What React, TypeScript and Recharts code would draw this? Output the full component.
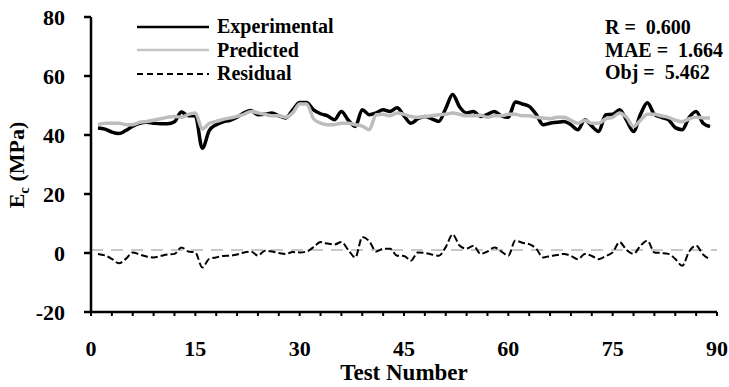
import React from 'react';
import {
  LineChart,
  Line,
  XAxis,
  YAxis,
  ReferenceLine
} from 'recharts';

// Test numbers 1..89
const testNumbers = Array.from({ length: 89 }, (_, i) => i + 1);

const experimental = [
  42.4, 42.0, 41.0, 40.5, 41.5, 43.0, 44.0, 44.3, 44.0, 43.8,
  43.8, 44.5, 47.8, 46.5, 46.5, 35.5, 41.5, 43.5, 44.5, 45.0,
  46.0, 47.5, 48.3, 46.9, 47.0, 47.5, 46.5, 45.8, 48.5, 51.0,
  51.0, 48.5, 47.2, 46.5, 45.2, 48.0, 45.0, 42.9, 48.6, 46.9,
  47.5, 48.6, 48.0, 49.2, 46.5, 44.0, 45.5, 46.3, 45.5, 44.6,
  49.0, 53.7, 49.5, 47.5, 48.0, 46.3, 47.0, 48.0, 46.5, 46.0,
  51.2, 50.5, 49.7, 47.0, 43.5, 44.0, 44.3, 44.6, 43.5, 41.8,
  45.2, 43.0, 41.2, 46.9, 47.0, 48.6, 45.0, 41.2, 47.0, 50.9,
  47.0, 46.0, 45.2, 42.5, 41.8, 46.0, 48.0, 44.0, 42.9
];

const predicted = [
  43.5, 44.0, 44.0, 44.0, 43.5, 43.5, 44.3, 44.6, 45.0, 45.5,
  46.0, 46.3, 46.0, 47.0, 47.5, 42.0, 44.0, 44.6, 45.3, 45.8,
  46.3, 47.0, 48.0, 47.5, 47.0, 46.5, 46.5, 46.0, 47.5, 50.5,
  50.5, 45.5, 44.0, 43.5, 43.5, 44.0, 44.0, 43.5, 43.0, 41.8,
  46.9, 47.0, 46.5, 47.5, 47.0, 46.3, 46.0, 46.3, 46.5, 46.9,
  47.0, 47.5, 47.0, 46.5, 46.5, 46.7, 46.0, 46.5, 46.5, 47.0,
  47.0, 46.5, 46.5, 46.0, 45.8, 45.5, 46.0, 46.0, 45.0, 44.0,
  45.0, 44.0, 44.0, 45.5, 46.0, 47.5, 46.0, 42.9, 45.0, 47.0,
  47.0, 46.5, 46.0, 45.0, 44.5, 45.5, 46.0, 45.8, 45.8
];

const residual = [
  -0.3, -0.8, -2.0, -3.5, -2.0, 0.2, -0.5, -1.2, -1.5, -1.0,
  -0.5, -0.3, 1.9, 0.5, 0.2, -4.9, -2.0, -1.5, -1.0, -0.9,
  -0.5, 0.2, 0.5, -0.9, 0.8, 0.5, 0.0, -0.3, 0.3, 0.2,
  0.5, 2.0, 3.7, 3.2, 2.9, 3.7, 1.0, -1.5, 5.4, 4.0,
  0.5, 1.4, 1.4, -0.9, -1.0, -2.6, 0.2, 0.0, -0.5, -0.9,
  2.0, 6.3, 2.5, 1.5, 2.5, -0.3, 0.5, 1.9, 0.5, -0.9,
  4.2, 3.5, 3.0, 1.5, -1.5, -1.0, -0.7, -0.3, -1.0, -2.1,
  -0.3, -1.0, -2.1, -1.0, 0.2, 3.7, 1.0, -0.3, 2.5, 4.2,
  0.2, 0.0, -0.3, -2.0, -4.3, 0.5, 2.5, -0.5, -2.1
];

const xTicks = Array.from({ length: 31 }, (_, i) => i * 3);
const yTicks = [-20, 0, 20, 40, 60, 80];
const meanResidual = 1;

const stats = ['R =  0.600', 'MAE =  1.664', 'Obj =  5.462'];

const FONT = '"Liberation Serif", "Times New Roman", serif';

const data = testNumbers.map((t, i) => ({
  test: t,
  experimental: experimental[i],
  predicted: predicted[i],
  residual: residual[i]
}));

const legendItems = [
  { name: 'Experimental', color: '#000', width: 2.5, dash: undefined },
  { name: 'Predicted', color: '#c4c4c4', width: 2.5, dash: undefined },
  { name: 'Residual', color: '#000', width: 2, dash: '6 4' }
];

const YLabel = () => (
  <text
    x={24}
    y={165}
    transform="rotate(-90 24 165)"
    textAnchor="middle"
    fontFamily={FONT}
    fontWeight="bold"
    fontSize={22}
    fill="#000"
  >
    E<tspan fontSize={15} dy={5}>c</tspan>
    <tspan dy={-5}> (MPa)</tspan>
  </text>
);

export default function App() {
  return (
    <div style={{ position: 'absolute', left: 0, top: 0, width: 729, height: 387, background: '#fff' }}>
      <LineChart
        width={729}
        height={387}
        data={data}
        margin={{ top: 17, right: 12, left: 0, bottom: 0 }}
      >
        <XAxis
          dataKey="test"
          type="number"
          domain={[0, 90]}
          ticks={xTicks}
          interval={0}
          tickFormatter={(v: number) => (v % 15 === 0 ? String(v) : '')}
          axisLine={{ stroke: '#000', strokeWidth: 2.5 }}
          tickLine={{ stroke: '#000', strokeWidth: 2 }}
          tickSize={4}
          tickMargin={24}
          height={75}
          tick={{ fontFamily: FONT, fontWeight: 'bold', fontSize: 22, fill: '#000' }}
          label={{
            value: 'Test Number',
            position: 'insideTop',
            offset: 52,
            style: { fontFamily: FONT, fontWeight: 'bold', fontSize: 23, fill: '#000' }
          }}
        />
        <YAxis
          type="number"
          domain={[-20, 80]}
          ticks={yTicks}
          interval={0}
          width={91}
          axisLine={{ stroke: '#000', strokeWidth: 2.5 }}
          tickLine={{ stroke: '#000', strokeWidth: 2.5 }}
          tickSize={7}
          tickMargin={19}
          tick={{ fontFamily: FONT, fontWeight: 'bold', fontSize: 22, fill: '#000' }}
          label={<YLabel />}
        />
        <ReferenceLine
          y={meanResidual}
          stroke="#c8c8c8"
          strokeWidth={2}
          strokeDasharray="12 8"
        />
        <Line
          type="monotone"
          dataKey="experimental"
          name="Experimental"
          stroke="#000"
          strokeWidth={3.5}
          dot={false}
          isAnimationActive={false}
        />
        <Line
          type="monotone"
          dataKey="predicted"
          name="Predicted"
          stroke="#bdbdbd"
          strokeWidth={3.5}
          dot={false}
          isAnimationActive={false}
        />
        <Line
          type="monotone"
          dataKey="residual"
          name="Residual"
          stroke="#000"
          strokeWidth={2}
          strokeDasharray="7 3"
          dot={false}
          isAnimationActive={false}
        />
      </LineChart>
      <div
        style={{
          position: 'absolute',
          left: 137,
          top: 15,
          fontFamily: FONT,
          fontWeight: 'bold',
          fontSize: 20,
          color: '#000'
        }}
      >
        {legendItems.map(item => (
          <div key={item.name} style={{ display: 'flex', alignItems: 'center', height: 23.5 }}>
            <svg width={72} height={10}>
              <line
                x1={0}
                y1={5}
                x2={72}
                y2={5}
                stroke={item.color}
                strokeWidth={item.width}
                strokeDasharray={item.dash}
              />
            </svg>
            <span style={{ marginLeft: 8 }}>{item.name}</span>
          </div>
        ))}
      </div>
      <div
        style={{
          position: 'absolute',
          left: 605,
          top: 16,
          fontFamily: FONT,
          fontWeight: 'bold',
          fontSize: 20,
          lineHeight: '22.5px',
          color: '#000',
          whiteSpace: 'pre'
        }}
      >
        {stats.map(s => (
          <div key={s}>{s}</div>
        ))}
      </div>
    </div>
  );
}
